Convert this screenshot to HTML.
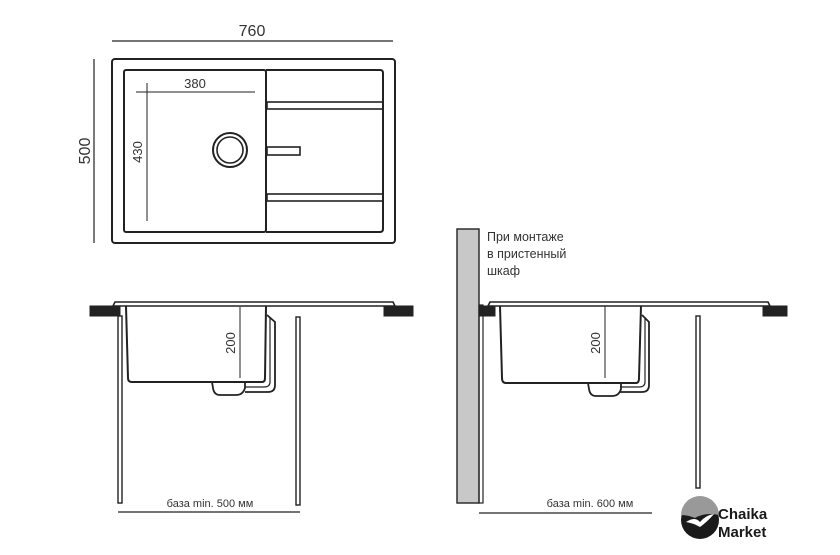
<!DOCTYPE html>
<html><head><meta charset="utf-8"><style>html,body{margin:0;padding:0;background:#fff}svg{display:block}</style></head>
<body>
<svg width="840" height="555" viewBox="0 0 840 555" xmlns="http://www.w3.org/2000/svg" font-family="Liberation Sans, sans-serif" fill="none" stroke="#222">
<!-- top view -->
<line x1="112" y1="41" x2="393" y2="41" stroke-width="1.2"/>
<text x="252" y="36" font-size="16" fill="#333" stroke="none" text-anchor="middle">760</text>
<line x1="94" y1="59" x2="94" y2="243" stroke-width="1.2"/>
<text x="0" y="0" font-size="16" fill="#333" stroke="none" text-anchor="middle" transform="translate(90,151) rotate(-90)">500</text>
<rect x="112" y="59" width="283" height="184" rx="3" stroke-width="2"/>
<rect x="124" y="70" width="142" height="162" rx="2" stroke-width="2"/>
<path d="M266 70 H380 Q383 70 383 73 V229 Q383 232 380 232 H266" stroke-width="2"/>
<rect x="267" y="102" width="116" height="7" stroke-width="1.6"/>
<rect x="267" y="194" width="116" height="7" stroke-width="1.6"/>
<rect x="267" y="147" width="33" height="8" stroke-width="1.6"/>
<circle cx="230" cy="150" r="17" stroke-width="2"/>
<circle cx="230" cy="150" r="13" stroke-width="1.6"/>
<line x1="136" y1="92" x2="255" y2="92" stroke-width="1"/>
<text x="195" y="88" font-size="13" fill="#333" stroke="none" text-anchor="middle">380</text>
<line x1="147" y1="83" x2="147" y2="221" stroke-width="1"/>
<text x="0" y="0" font-size="13" fill="#333" stroke="none" text-anchor="middle" transform="translate(142,152) rotate(-90)">430</text>

<!-- left side view -->
<rect x="90" y="306" width="30" height="10" fill="#222"/>
<rect x="384" y="306" width="29" height="10" fill="#222"/>
<path d="M113 306 L115 302 H393 L395 306 Z" stroke-width="1.6"/>
<path d="M126 306 L128 378 Q128 382 132 382 H262 Q265 382 265 378 L266 306" stroke-width="2"/>
<path d="M267 315 L275 322 V385 Q275 392 268 392 H245" stroke-width="1.8"/>
<path d="M270 318 V382 Q270 387 264 387 H245" stroke-width="1.2"/>
<path d="M212 382 H245 V388 Q243 395 236 395 H220 Q214 395 213 388 Z" stroke-width="1.8"/>
<rect x="118" y="316" width="4" height="187" stroke-width="1.4"/>
<rect x="296" y="317" width="4" height="188" stroke-width="1.4"/>
<line x1="240" y1="307" x2="240" y2="378" stroke-width="1"/>
<text x="0" y="0" font-size="13" fill="#333" stroke="none" text-anchor="middle" transform="translate(235,343) rotate(-90)">200</text>
<line x1="118" y1="512" x2="300" y2="512" stroke-width="1.2"/>
<text x="210" y="507" font-size="11" fill="#333" stroke="none" text-anchor="middle">база min. 500 мм</text>

<!-- right side view -->
<rect x="457" y="229" width="22" height="274" fill="#c8c8c8" stroke-width="1.4"/>
<rect x="479" y="305" width="4" height="198" stroke-width="1.2"/>
<text font-size="12.5" fill="#333" stroke="none"><tspan x="487" y="241">При монтаже</tspan><tspan x="487" y="258">в пристенный</tspan><tspan x="487" y="275">шкаф</tspan></text>
<rect x="480" y="306" width="15" height="10" fill="#222"/>
<rect x="763" y="306" width="24" height="10" fill="#222"/>
<path d="M488 306 L490 302 H768 L770 306 Z" stroke-width="1.6"/>
<path d="M500 306 L502 378 Q502 383 506 383 H636 Q639 383 639 378 L641 306" stroke-width="2"/>
<path d="M642 315 L649 322 V385 Q649 392 642 392 H620" stroke-width="1.8"/>
<path d="M645 318 V382 Q645 387 639 387 H620" stroke-width="1.2"/>
<path d="M588 383 H621 V389 Q619 396 612 396 H596 Q590 396 589 389 Z" stroke-width="1.8"/>
<rect x="696" y="316" width="4" height="172" stroke-width="1.4"/>
<line x1="605" y1="306" x2="605" y2="378" stroke-width="1"/>
<text x="0" y="0" font-size="13" fill="#333" stroke="none" text-anchor="middle" transform="translate(600,343) rotate(-90)">200</text>
<line x1="479" y1="513" x2="652" y2="513" stroke-width="1.2"/>
<text x="590" y="507" font-size="11" fill="#333" stroke="none" text-anchor="middle">база min. 600 мм</text>

<!-- logo -->
<circle cx="700" cy="520" r="19" fill="#1a1a1a" stroke="none"/>
<path d="M681 515 A19 19 0 0 1 719 515 Q705 512 695 518 Q688 515 681 515 Z" fill="#999" stroke="none"/>
<path d="M686 522 Q695 516 700 522 Q706 515 714 514 Q707 522 700 527 Q693 523 686 522 Z" fill="#fff" stroke="none"/>
<text x="718" y="519" font-size="15" font-weight="bold" fill="#1a1a1a" stroke="none">Chaika</text>
<text x="718" y="537" font-size="15" font-weight="bold" fill="#1a1a1a" stroke="none">Market</text>
</svg>
</body></html>
